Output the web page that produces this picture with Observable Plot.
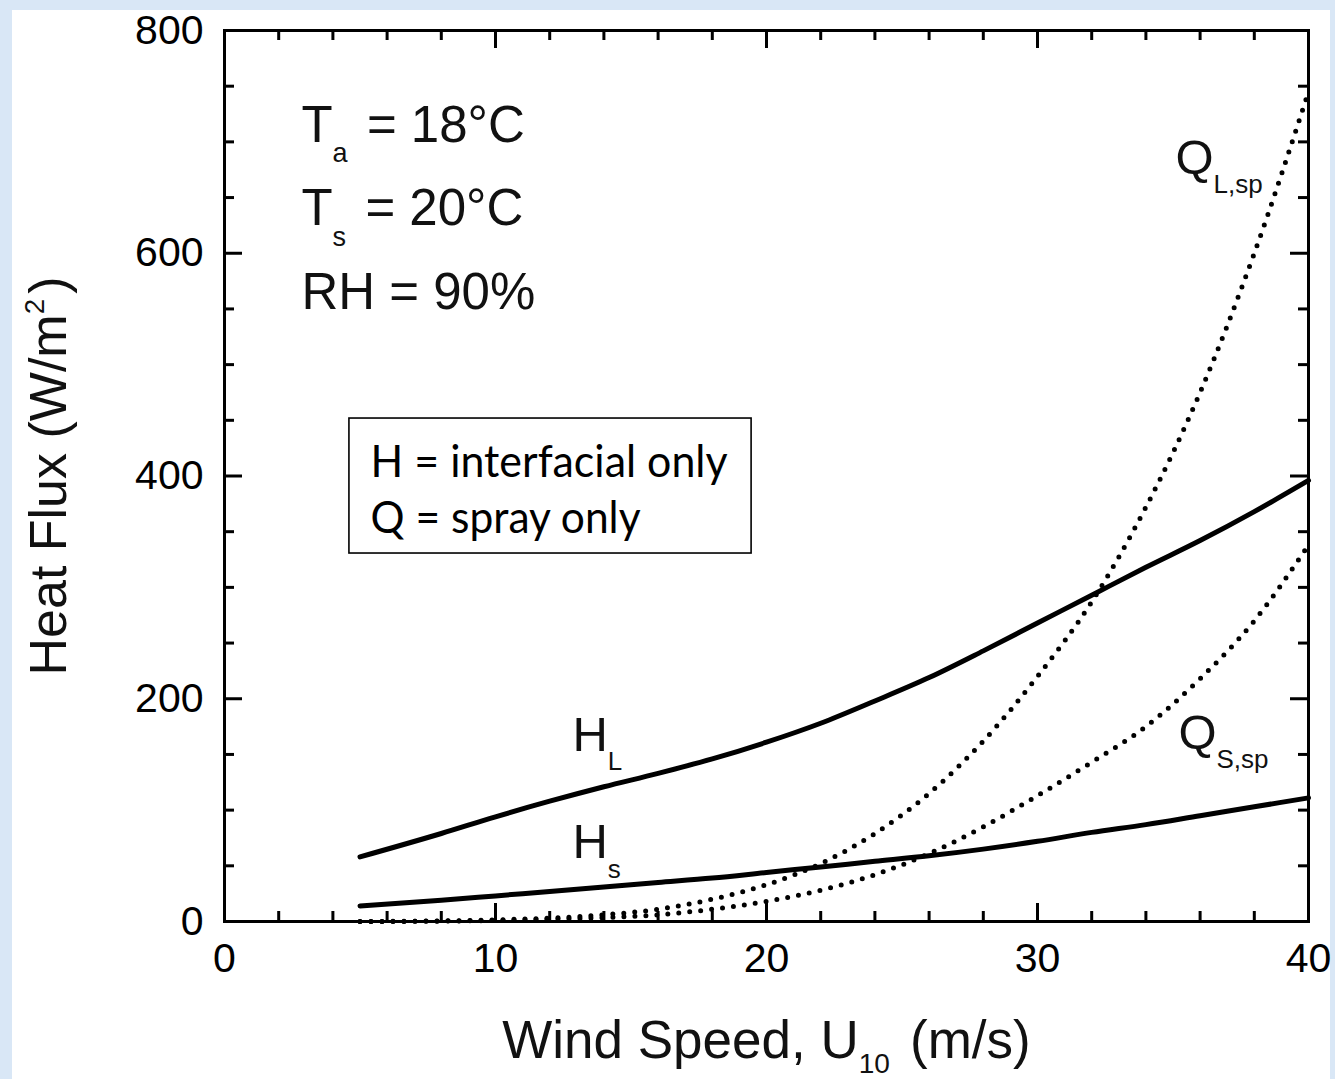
<!DOCTYPE html>
<html>
<head>
<meta charset="utf-8">
<script src="https://cdn.jsdelivr.net/npm/d3@7"></script>
<script src="https://cdn.jsdelivr.net/npm/@observablehq/plot@0.6"></script>
<style>
  html, body { margin: 0; padding: 0; }
  body {
    width: 1335px; height: 1079px; overflow: hidden; position: relative;
    background: #d9e7f6;
    font-family: "Liberation Sans", Arial, sans-serif;
  }
  #panel {
    position: absolute; left: 12px; top: 10px; width: 1318px; height: 1069px;
    background: #ffffff;
  }
  #chart { position: absolute; left: 0; top: 0; }
  #chart svg { display: block; }
</style>
</head>
<body>
<div id="panel"></div>
<div id="chart"></div>
<script>
// ---- data ----
const windSpeed = [5, 8, 10, 12, 14, 16, 18, 20, 22, 24, 26, 28, 30, 32, 34, 36, 38, 40];
const H_L  = [58, 79, 94, 108, 121, 133, 146, 161, 178, 198, 219, 243, 268, 293, 318, 342, 368, 396];
const H_s  = [14, 19, 23, 27, 31, 35, 39, 44, 49, 54, 59, 65, 72, 80, 87, 95, 103, 111];
const Q_Lsp = [0, 0.5, 1.5, 3, 6, 11, 20, 33, 52, 79, 115, 162, 220, 287, 372, 475, 600, 745];
const Q_Ssp = [0, 0.3, 1, 2, 3.5, 6, 11, 18, 28, 42, 61, 85, 113, 143, 175, 218, 270, 338];

const xMajorTicks = [0, 10, 20, 30, 40];
const xMinorTicks = [2, 4, 6, 8, 12, 14, 16, 18, 22, 24, 26, 28, 32, 34, 36, 38];
const yMajorTicks = [0, 200, 400, 600, 800];
const yMinorTicks = [50, 100, 150, 250, 300, 350, 450, 500, 550, 650, 700, 750];

// annotations (data coordinates)
const conditionLabels = [
  {x: 2.84, y: 700, text: "T_{a} = 18°C"},
  {x: 2.84, y: 625, text: "T_{s} = 20°C"},
  {x: 2.84, y: 550, text: "RH = 90%"}
];
const curveLabels = [
  {x: 12.84, y: 153.5, text: "H_{L}"},
  {x: 12.84, y: 56.6, text: "H_{s}"},
  {x: 35.09, y: 671.6, text: "Q_{L,sp}"},
  {x: 35.2, y: 155.3, text: "Q_{S,sp}"}
];
const legendBox = [{x1: 4.61, x2: 19.45, y1: 330.4, y2: 451.6}];
const legendLines = [
  {x: 5.39, y: 398.7, text: "H = interfacial only"},
  {x: 5.39, y: 348.4, text: "Q = spray only"}
];

const xLabel = "Wind Speed, U_{10} (m/s)";
const yLabel = "Heat Flux (W/m^{2})";

// ---- build series ----
const solid = [
  ...windSpeed.map((x, i) => ({x, y: H_L[i], s: "H_L"})),
  ...windSpeed.map((x, i) => ({x, y: H_s[i], s: "H_s"}))
];
const dotted = [
  ...windSpeed.map((x, i) => ({x, y: Q_Lsp[i], s: "Q_L"})),
  ...windSpeed.map((x, i) => ({x, y: Q_Ssp[i], s: "Q_S"}))
];

const W = 1335, Hgt = 1079;
const mL = 224, mR = 27, mT = 30, mB = 158;
const fw = W - mL - mR, fh = Hgt - mT - mB;

const chart = Plot.plot({
  width: W, height: Hgt,
  marginLeft: mL, marginRight: mR, marginTop: mT, marginBottom: mB,
  style: {fontFamily: "'Liberation Sans', Arial, sans-serif", background: "transparent", color: "black", overflow: "visible"},
  x: {domain: [0, 40]},
  y: {domain: [0, 800]},
  marks: [
    Plot.rect(legendBox, {x1: "x1", x2: "x2", y1: "y1", y2: "y2", fill: "white", stroke: "black", strokeWidth: 1.6}),
    Plot.line(solid, {x: "x", y: "y", z: "s", stroke: "black", strokeWidth: 5, curve: "monotone-x", strokeLinejoin: "round"}),
    Plot.line(dotted, {x: "x", y: "y", z: "s", stroke: "black", strokeWidth: 5, curve: "monotone-x", strokeDasharray: "0,11", strokeLinecap: "round"}),
    // inward ticks on all four sides
    Plot.tickX(xMajorTicks, {x: d => d, insetTop: fh - 18, strokeWidth: 3}),
    Plot.tickX(xMajorTicks, {x: d => d, insetBottom: fh - 18, strokeWidth: 3}),
    Plot.tickX(xMinorTicks, {x: d => d, insetTop: fh - 10, strokeWidth: 3}),
    Plot.tickX(xMinorTicks, {x: d => d, insetBottom: fh - 10, strokeWidth: 3}),
    Plot.tickY(yMajorTicks, {y: d => d, insetRight: fw - 18, strokeWidth: 3}),
    Plot.tickY(yMajorTicks, {y: d => d, insetLeft: fw - 18, strokeWidth: 3}),
    Plot.tickY(yMinorTicks, {y: d => d, insetRight: fw - 10, strokeWidth: 3}),
    Plot.tickY(yMinorTicks, {y: d => d, insetLeft: fw - 10, strokeWidth: 3}),
    Plot.frame({stroke: "black", strokeWidth: 3}),
    Plot.axisX({ticks: xMajorTicks, tickSize: 0, tickPadding: 21, fontSize: 41, label: null, tickFormat: d => String(d)}),
    Plot.axisY({ticks: yMajorTicks, tickSize: 0, tickPadding: 21, fontSize: 41, label: null, tickFormat: d => String(d)}),
    // axis titles
    Plot.text([xLabel], {text: d => d, frameAnchor: "bottom", dy: 136, lineAnchor: "bottom", textAnchor: "middle", fontSize: 53, fill: "#111"}),
    Plot.text([yLabel], {text: d => d, frameAnchor: "left", dx: -159, rotate: -90, lineAnchor: "bottom", textAnchor: "middle", fontSize: 52, fill: "#111"}),
    // annotations
    Plot.text(conditionLabels, {x: "x", y: "y", text: "text", textAnchor: "start", lineAnchor: "bottom", fontSize: 51, fill: "#111"}),
    Plot.text(curveLabels, {x: "x", y: "y", text: "text", textAnchor: "start", lineAnchor: "bottom", fontSize: 49, fill: "#111"}),
    Plot.text(legendLines, {x: "x", y: "y", text: "text", textAnchor: "start", lineAnchor: "bottom", fontSize: 44, fontFamily: "Lato, 'Open Sans', sans-serif", fill: "black"})
  ]
});

document.getElementById("chart").appendChild(chart);

// rich text: _{sub} and ^{sup}
d3.select(chart).selectAll("text").each(function() {
  const el = this;
  const raw = el.textContent;
  if (!/[_^]\{/.test(raw)) return;
  const fs = parseFloat(getComputedStyle(el).fontSize);
  const isAxisTitle = raw === xLabel;
  const parts = [];
  const re = /([_^])\{([^}]*)\}/g;
  let last = 0, m;
  while ((m = re.exec(raw))) {
    if (m.index > last) parts.push({t: raw.slice(last, m.index), k: "n"});
    parts.push({t: m[2], k: m[1] === "_" ? "sub" : "sup"});
    last = re.lastIndex;
  }
  if (last < raw.length) parts.push({t: raw.slice(last), k: "n"});
  el.textContent = "";
  el.style.whiteSpace = "pre";
  let shift = 0, prevScript = false;
  for (const p of parts) {
    const ts = d3.select(el).append("tspan").text(p.t);
    const target = p.k === "sub" ? fs * (isAxisTitle ? 0.3 : 0.4) : p.k === "sup" ? -fs * 0.42 : 0;
    if (target - shift !== 0) ts.attr("dy", target - shift);
    shift = target;
    if (p.k !== "n") ts.attr("font-size", fs * 0.53);
    else if (prevScript) ts.attr("dx", fs * 0.1);
    prevScript = p.k !== "n";
  }
});

// match the legend text widths of the reference box
const legendWidths = {"H = interfacial only": 357, "Q = spray only": 270};
d3.select(chart).selectAll("text").each(function() {
  const w = legendWidths[this.textContent];
  if (w) { this.setAttribute("textLength", w); this.setAttribute("lengthAdjust", "spacingAndGlyphs"); }
});
</script>
</body>
</html>
